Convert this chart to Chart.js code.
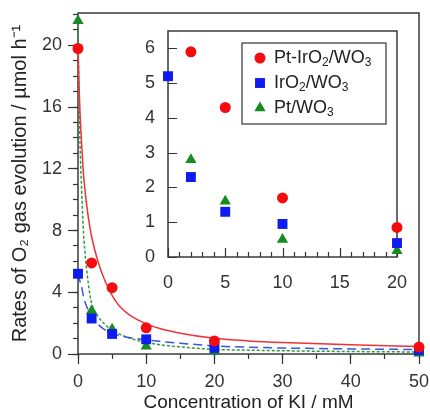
<!DOCTYPE html>
<html>
<head>
<meta charset="utf-8">
<script src="https://cdn.jsdelivr.net/npm/chart.js@4.4.0/dist/chart.umd.min.js"></script>
<style>
  html, body { margin: 0; padding: 0; background: #fff; }
  #wrap { position: relative; width: 430px; height: 414px; }
  #mainChart { position: absolute; left: 0; top: 0; }
  #insetChart { position: absolute; left: 130px; top: 20px; }
</style>
</head>
<body>
<div id="wrap">
  <canvas id="mainChart" width="430" height="414"></canvas>
  <canvas id="insetChart" width="280" height="280"></canvas>
</div>
<script>
'use strict';
var concentrations = [0, 2, 5, 10, 20, 50];
var ptIrO2Rates = [19.8, 5.9, 4.3, 1.7, 0.85, 0.45];
var irO2Rates = [5.2, 2.3, 1.3, 0.95, 0.4, 0.25];
var ptRates = [21.6, 2.8, 1.6, 0.5, 0.18, 0.05];

// fitted curves
var fitConcentrations = [0, 0.1, 0.2, 0.3, 0.5, 0.75, 1, 1.5, 2, 3, 4, 5, 6, 8, 10, 12, 15, 20, 25, 30, 40, 50];
var ptIrO2Fit = [19.8, 18.2, 16.8, 15.6, 13.9, 12.0, 10.7, 8.9, 7.6, 5.9, 4.7, 3.8, 3.15, 2.4, 1.95, 1.65, 1.35, 1.02, 0.85, 0.74, 0.6, 0.48];
var irO2Fit = [5.2, 5.0, 4.85, 4.7, 4.4, 3.85, 3.4, 2.85, 2.45, 1.9, 1.55, 1.35, 1.2, 1.03, 0.92, 0.82, 0.7, 0.52, 0.44, 0.39, 0.33, 0.29];
var ptFit = [21.6, 18.0, 15.5, 13.6, 11.0, 8.3, 6.7, 4.6, 3.3, 2.4, 1.9, 1.55, 1.3, 0.97, 0.75, 0.6, 0.46, 0.3, 0.25, 0.21, 0.16, 0.13];

var seriesNames = ['Pt-IrO2/WO3', 'IrO2/WO3', 'Pt/WO3'];
var xTitle = 'Concentration of KI / mM';
var yTitle = 'Rates of O\u2082 gas evolution / \u00b5mol h\u207b\u00b9';

// styles
var pointColors = ['#f30d10', '#0f1cf0', '#178a22'];
var lineColors = ['#f0323a', '#3a55e0', '#2e9a3a'];
var pointStyles = ['circle', 'rect', 'triangle'];
var pointSizes = [5.5, 7, 6.5];
var lineDashes = [[], [9, 5], [3, 2]];
var axisColor = '#333';
var fontFamily = '"Liberation Sans", Arial, sans-serif';

Chart.defaults.font.family = fontFamily;

function toPoints(xs, ys) {
  return xs.map(function(x, i) { return {x: x, y: ys[i]}; });
}

var rates = [ptIrO2Rates, irO2Rates, ptRates];
var fits = [ptIrO2Fit, irO2Fit, ptFit];

function pointDatasets(clip) {
  return rates.map(function(r, i) {
    return {
      label: seriesNames[i],
      data: toPoints(concentrations, r),
      xAxisID: 'x', yAxisID: 'y',
      pointStyle: pointStyles[i],
      pointRadius: pointSizes[i],
      pointBackgroundColor: pointColors[i],
      pointBorderWidth: 0,
      showLine: false,
      clip: clip,
      order: 1
    };
  });
}

var curveDatasets = fits.map(function(f, i) {
  return {
    label: seriesNames[i] + ' fit',
    data: toPoints(fitConcentrations, f),
    xAxisID: 'x', yAxisID: 'y',
    showLine: true,
    pointRadius: 0,
    borderColor: lineColors[i],
    borderWidth: 1.5,
    borderDash: lineDashes[i],
    cubicInterpolationMode: 'monotone',
    fill: false,
    clip: false,
    order: 2
  };
});

// box round the plot area
var framePlugin = {
  id: 'frame',
  beforeDatasetsDraw: function(chart) {
    var a = chart.chartArea;
    var ctx = chart.ctx;
    ctx.save();
    ctx.strokeStyle = '#3a3a3a';
    ctx.lineWidth = 1.5;
    ctx.strokeRect(a.left, a.top, a.right - a.left, a.bottom - a.top);
    ctx.restore();
  }
};

// inset ticks point into the plot
var insetTicks = {
  id: 'insetTicks',
  beforeDatasetsDraw: function(chart) {
    var a = chart.chartArea;
    var ctx = chart.ctx;
    var sc = chart.scales;
    ctx.save();
    ctx.strokeStyle = axisColor;
    ctx.lineWidth = 1.2;
    ctx.beginPath();
    sc.xMinor.ticks.forEach(function(t) {
      var px = Math.round(sc.x.getPixelForValue(t.value)) + 0.5;
      var len = t.value % 5 === 0 ? 9 : 5;
      ctx.moveTo(px, a.bottom);
      ctx.lineTo(px, a.bottom - len);
    });
    sc.y.ticks.forEach(function(t) {
      var py = Math.round(sc.y.getPixelForValue(t.value)) + 0.5;
      ctx.moveTo(a.left, py);
      ctx.lineTo(a.left + 9, py);
    });
    ctx.stroke();
    ctx.restore();
  }
};

// text with the digits set as subscripts
function drawChemLabel(ctx, text, x, y) {
  var parts = text.split(/(\d+)/);
  for (var i = 0; i < parts.length; i++) {
    if (!parts[i]) continue;
    var sub = /^\d+$/.test(parts[i]);
    ctx.font = (sub ? '12px ' : '18px ') + fontFamily;
    ctx.fillText(parts[i], x, sub ? y + 5 : y);
    x += ctx.measureText(parts[i]).width;
  }
}

var insetLegend = {
  id: 'insetLegend',
  afterDatasetsDraw: function(chart) {
    var ctx = chart.ctx;
    var area = chart.chartArea;
    var boxW = 144, boxH = 81;
    var left = area.right - 11 - boxW;
    var top = area.top + 12;
    ctx.save();
    ctx.fillStyle = '#fff';
    ctx.fillRect(left, top, boxW, boxH);
    ctx.strokeStyle = '#333';
    ctx.lineWidth = 1.2;
    ctx.strokeRect(left, top, boxW, boxH);
    chart.data.datasets.forEach(function(ds, i) {
      var cy = top + 15 + i * 25;
      ctx.fillStyle = ds.pointBackgroundColor;
      Chart.helpers.drawPoint(ctx, {pointStyle: ds.pointStyle, radius: ds.pointRadius, rotation: 0, borderWidth: 0}, left + 18, cy);
      ctx.fillStyle = '#222';
      ctx.textBaseline = 'middle';
      ctx.textAlign = 'left';
      drawChemLabel(ctx, ds.label, left + 32, cy);
    });
    ctx.restore();
  }
};

function tickGrid(len) {
  return {drawOnChartArea: false, tickLength: len, tickColor: axisColor, tickWidth: 1.2};
}
function noOverflowX(h) {
  return function(s) { s.height = h; s.paddingLeft = 0; s.paddingRight = 0; };
}
function noOverflowY(w) {
  return function(s) { s.width = w; s.paddingTop = 0; s.paddingBottom = 0; };
}

//main chart
var mainChart = new Chart(document.getElementById('mainChart'), {
  type: 'scatter',
  data: {datasets: pointDatasets(false).concat(curveDatasets)},
  options: {
    responsive: false,
    animation: false,
    layout: {padding: {left: 0, right: 11, top: 13, bottom: 0}},
    plugins: {legend: {display: false}, tooltip: {enabled: false}},
    scales: {
      xMinor: {
        type: 'linear', position: 'bottom', weight: 0, min: 0, max: 50,
        ticks: {stepSize: 5, display: false},
        grid: tickGrid(5), border: {display: false},
        afterFit: noOverflowX(0)
      },
      yMinor: {
        type: 'linear', position: 'left', weight: 0, min: 0, max: 22.1,
        ticks: {stepSize: 1, display: false, includeBounds: false},
        grid: tickGrid(5), border: {display: false},
        afterFit: noOverflowY(0)
      },
      x: {
        type: 'linear', position: 'bottom', weight: 1, min: 0, max: 50,
        ticks: {stepSize: 10, color: axisColor, font: {size: 18}, padding: 7},
        grid: tickGrid(10), border: {display: false},
        title: {display: true, text: xTitle, color: '#222', font: {size: 19}, padding: 0},
        afterFit: noOverflowX(60)
      },
      y: {
        type: 'linear', position: 'left', weight: 1, min: 0, max: 22.1,
        ticks: {stepSize: 4, color: axisColor, font: {size: 18}, padding: 6, includeBounds: false},
        grid: tickGrid(10), border: {display: false},
        title: {display: true, text: yTitle, color: '#222', font: {size: 20}, padding: {top: 8, bottom: 0}},
        afterFit: noOverflowY(78)
      }
    }
  },
  plugins: [framePlugin]
});

//inset chart, same points zoomed in
var insetChart = new Chart(document.getElementById('insetChart'), {
  type: 'scatter',
  data: {datasets: pointDatasets({left: 10, top: 0, right: 10, bottom: 10})},
  options: {
    responsive: false,
    animation: false,
    layout: {padding: {left: 0, right: 13, top: 11, bottom: 0}},
    plugins: {legend: {display: false}, tooltip: {enabled: false}},
    scales: {
      xMinor: {
        type: 'linear', position: 'bottom', weight: 0, min: 0, max: 20,
        ticks: {stepSize: 1, display: false},
        grid: {display: false}, border: {display: false},
        afterFit: noOverflowX(0)
      },
      x: {
        type: 'linear', position: 'bottom', weight: 1, min: 0, max: 20,
        ticks: {stepSize: 5, color: axisColor, font: {size: 18}, padding: 7},
        grid: {display: false}, border: {display: false},
        afterFit: noOverflowX(43)
      },
      y: {
        type: 'linear', position: 'left', min: 0, max: 6.5,
        ticks: {stepSize: 1, color: axisColor, font: {size: 18}, padding: 5, includeBounds: false},
        grid: {display: false}, border: {display: false},
        afterFit: noOverflowY(38)
      }
    }
  },
  plugins: [framePlugin, insetTicks, insetLegend]
});
</script>
</body>
</html>
